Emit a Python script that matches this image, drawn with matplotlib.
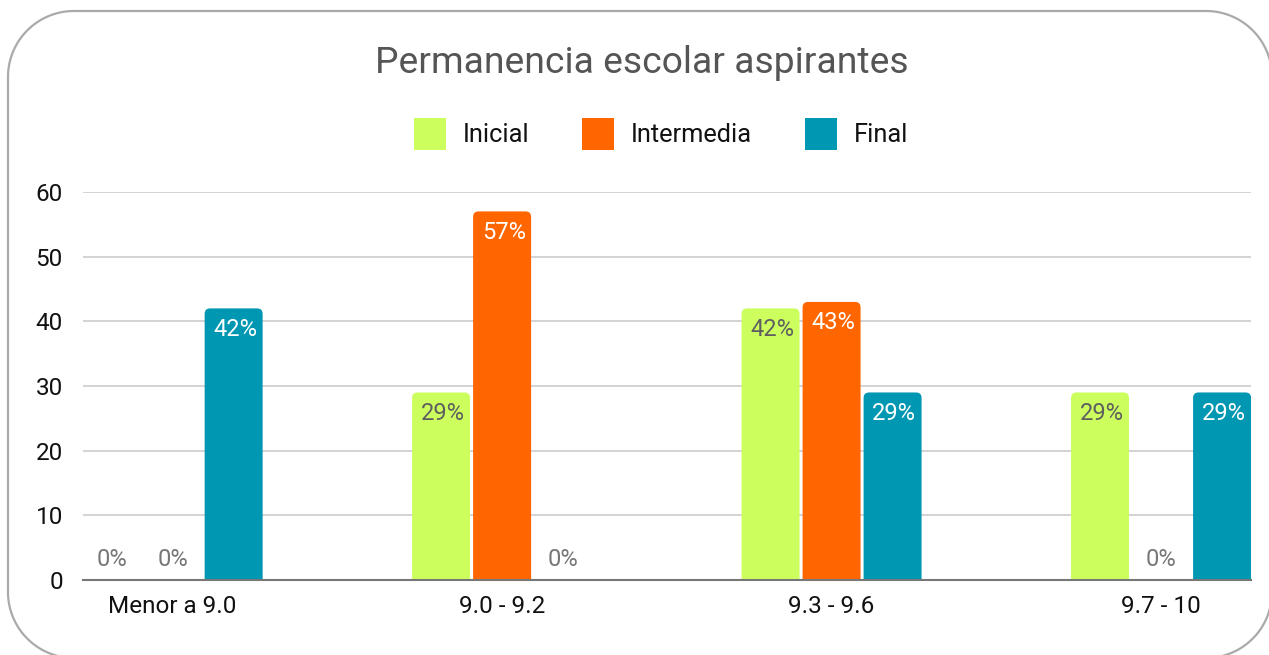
import matplotlib
matplotlib.use("Agg")
import matplotlib.pyplot as plt
from matplotlib.patches import FancyBboxPatch, Rectangle, Polygon
from matplotlib.transforms import IdentityTransform
import numpy as np

plt.rcParams['font.family'] = ['Roboto', 'DejaVu Sans']

categories = ["Menor a 9.0", "9.0 - 9.2", "9.3 - 9.6", "9.7 - 10"]
series_names = ["Inicial", "Intermedia", "Final"]
inicial = [0, 29, 42, 29]
intermedia = [0, 57, 43, 0]
final = [42, 0, 29, 29]
series_values = [inicial, intermedia, final]
colors = ["#CCFF5E", "#FF6600", "#0097B2"]
label_colors = ["#5f5f5f", "#ffffff", "#ffffff"]
yticks = [0, 10, 20, 30, 40, 50, 60]
title = "Permanencia escolar aspirantes"

W, H = 1269, 655
fig = plt.figure(figsize=(W / 100, H / 100), dpi=100)


def rounded_rect(x0, y0, x1, y1, r, n=40):
    pts = []
    corners = [(x1 - r, y1 - r, 0), (x0 + r, y1 - r, 90),
               (x0 + r, y0 + r, 180), (x1 - r, y0 + r, 270)]
    for cx, cy, a0 in corners:
        t = np.radians(np.linspace(a0, a0 + 90, n))
        pts.extend(zip(cx + r * np.cos(t), cy + r * np.sin(t)))
    return np.array(pts)


# rounded border (pixel coordinates, bottom-left origin)
border = Polygon(rounded_rect(8, -3, 1272, 644, 66), closed=True,
                 transform=IdentityTransform(), facecolor="none",
                 edgecolor="#aaaaaa", linewidth=1.6, zorder=-1)
fig.patches.append(border)

ax = fig.add_axes([83 / W, 1 - 580 / H, (1251 - 83) / W, (580 - 192) / H])
ax.set_facecolor("none")
ax.set_zorder(1)
x_lo, x_hi = -0.272, 3.273
ax.set_xlim(x_lo, x_hi)
ax.set_ylim(0, 60)

x = np.arange(len(categories))
width = 0.176
offset = 0.1852

px_x = (1251 - 83) / (x_hi - x_lo)  # px per x unit
px_y = (580 - 192) / 60.0
aspect = px_x / px_y
r_px = 5.5

for i, (vals, col, lc) in enumerate(zip(series_values, colors, label_colors)):
    bars = ax.bar(x + (i - 1) * offset, vals, width=width, color=col, zorder=2)
    for b, v in zip(bars, vals):
        bx, bw, bh = b.get_x(), b.get_width(), b.get_height()
        if bh > 0:
            b.set_visible(False)
            p = FancyBboxPatch((bx, -2), bw, bh + 2,
                               boxstyle="round,pad=0,rounding_size=%f" % (r_px / px_x),
                               mutation_aspect=aspect, facecolor=col,
                               edgecolor="none", zorder=2, clip_on=True)
            ax.add_patch(p)
            ax.annotate(f"{v}%", (bx + bw / 2, bh), xytext=(1.2, -15),
                        textcoords="offset points", ha="center", va="center",
                        fontsize=17, color=lc, zorder=3)
        else:
            ax.annotate(f"{v}%", (bx + bw / 2, 0), xytext=(0, 14.5),
                        textcoords="offset points", ha="center", va="center",
                        fontsize=17, color="#777777", zorder=3)

ax.set_yticks(yticks)
ax.set_yticklabels([str(t) for t in yticks], fontsize=17.5, color="#111111")
ax.set_xticks(x)
ax.set_xticklabels(categories, fontsize=17.5, color="#111111")
ax.tick_params(axis="y", length=0, pad=14.5)
ax.tick_params(axis="x", length=0, pad=11)
ax.grid(axis="y", color="#cccccc", linewidth=1.2, zorder=0)
ax.set_axisbelow(True)
for s in ["top", "right", "left"]:
    ax.spines[s].set_visible(False)
ax.spines["bottom"].set_color("#777777")
ax.spines["bottom"].set_linewidth(1.5)
ax.spines["bottom"].set_zorder(4)

fig.text(642 / W, 1 - 63 / H, title, ha="center", va="center",
         fontsize=26.8, color="#555555")

handles = [Rectangle((0, 0), 1, 1, facecolor=c, edgecolor="none") for c in colors]
leg = fig.legend(handles, series_names, loc="center", bbox_to_anchor=(661 / W, 1 - 134 / H),
                 ncol=3, frameon=False, fontsize=18.3, handlelength=1.25, handleheight=1.5,
                 handletextpad=0.65, columnspacing=2.1, labelcolor="#111111")

fig.savefig("out.png", dpi=100)
